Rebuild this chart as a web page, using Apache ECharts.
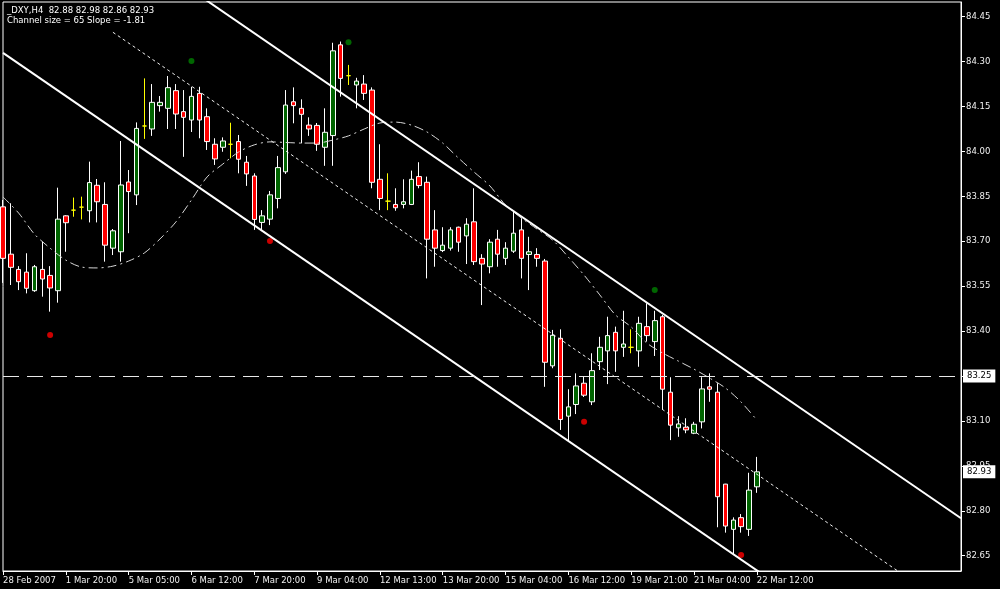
<!DOCTYPE html>
<html><head><meta charset="utf-8">
<script src="https://cdn.jsdelivr.net/npm/echarts@6/dist/echarts.min.js"></script>
<style>html,body{margin:0;padding:0;background:#000;}#c{width:1000px;height:589px;}</style>
</head><body><div id="c"></div>
<script>
// ---- data ----
const titleLine1 = '_DXY,H4  82.88 82.98 82.86 82.93';
const titleLine2 = 'Channel size = 65 Slope = -1.81';
const tickLabels = ['28 Feb 2007','1 Mar 20:00','5 Mar 05:00','6 Mar 12:00','7 Mar 20:00','9 Mar 04:00','12 Mar 13:00','13 Mar 20:00','15 Mar 04:00','16 Mar 12:00','19 Mar 21:00','21 Mar 04:00','22 Mar 12:00'];
const barsPerTick = 8;
const slotCount = 123; // bars + empty right margin
const open = [83.815,83.657,83.606,83.597,83.535,83.606,83.586,83.535,83.785,83.804,83.814,83.802,83.887,83.823,83.677,83.665,83.898,83.855,84.085,84.075,84.153,84.144,84.203,84.133,84.105,84.194,84.116,84.024,84.014,84.024,84.033,83.964,83.918,83.763,83.774,83.843,83.932,84.166,84.144,84.088,84.087,84.014,84.053,84.356,84.253,84.222,84.225,84.205,83.907,83.834,83.823,83.823,83.823,83.916,83.897,83.738,83.669,83.677,83.747,83.718,83.765,83.643,83.615,83.707,83.643,83.667,83.738,83.656,83.656,83.634,83.284,83.376,83.116,83.155,83.226,83.164,83.298,83.334,83.396,83.346,83.346,83.334,83.415,83.365,83.448,83.196,83.077,83.079,83.059,83.097,83.214,83.196,82.889,82.738,82.777,82.738,82.88];
const high = [83.838,83.827,83.617,83.660,83.621,83.699,83.617,83.879,83.787,83.846,83.849,83.966,83.908,83.897,83.741,84.035,83.938,84.097,84.244,84.225,84.185,84.252,84.225,84.205,84.216,84.216,84.144,84.044,84.047,84.096,84.055,83.985,83.927,83.804,83.868,83.985,84.205,84.214,84.174,84.114,84.095,84.144,84.363,84.367,84.289,84.246,84.255,84.214,84.024,83.927,83.877,83.907,83.936,83.964,83.916,83.804,83.747,83.747,83.749,83.777,83.877,83.657,83.707,83.738,83.697,83.799,83.777,83.715,83.677,83.641,83.404,83.406,83.206,83.259,83.248,83.326,83.381,83.448,83.415,83.468,83.406,83.448,83.493,83.468,83.454,83.246,83.116,83.109,83.097,83.246,83.259,83.226,82.890,82.778,82.789,82.927,82.98];
const low = [83.561,83.554,83.537,83.526,83.531,83.515,83.465,83.495,83.665,83.782,83.773,83.763,83.763,83.632,83.654,83.632,83.727,83.821,84.042,84.052,84.133,84.075,84.075,83.982,84.065,84.044,84.005,83.955,83.999,83.977,83.927,83.885,83.738,83.734,83.754,83.810,83.925,84.094,84.027,84.052,84.002,83.952,83.952,84.183,84.222,84.144,84.172,83.877,83.804,83.804,83.802,83.810,83.821,83.877,83.576,83.615,83.664,83.669,83.665,83.624,83.621,83.487,83.593,83.615,83.621,83.661,83.576,83.537,83.615,83.214,83.276,83.070,83.031,83.123,83.180,83.153,83.270,83.223,83.264,83.314,83.326,83.281,83.365,83.317,83.139,83.036,83.047,83.059,83.056,83.075,83.164,82.745,82.727,82.652,82.727,82.716,82.86];
const close = [83.643,83.613,83.565,83.543,83.615,83.574,83.544,83.774,83.762,83.804,83.814,83.896,83.832,83.687,83.735,83.888,83.866,84.077,84.085,84.164,84.164,84.213,84.125,84.114,84.184,84.105,84.033,83.975,84.035,84.024,83.974,83.925,83.773,83.785,83.855,83.946,84.155,84.153,84.124,84.075,84.024,84.064,84.336,84.244,84.253,84.235,84.194,83.897,83.843,83.834,83.812,83.832,83.907,83.886,83.707,83.677,83.687,83.738,83.697,83.757,83.632,83.624,83.697,83.657,83.677,83.727,83.643,83.665,83.643,83.296,83.386,83.105,83.147,83.217,83.186,83.268,83.346,83.385,83.334,83.357,83.346,83.426,83.385,83.435,83.206,83.086,83.090,83.070,83.089,83.207,83.206,82.847,82.749,82.769,82.747,82.869,82.93];
const maBars = [0,2,4,6,8,10,12,14,16,18,20,22,24,26,28,30,32,34,36,38,40,42,44,46,48,50,52,54,56,58,60,62,64,66,68,70,72,74,76,78,80,82,84,86,88,90,92,94,96];
const maValues = [83.848,83.794,83.724,83.677,83.637,83.614,83.611,83.617,83.634,83.661,83.708,83.764,83.838,83.915,83.958,83.998,84.022,84.032,84.030,84.028,84.028,84.038,84.052,84.075,84.095,84.098,84.088,84.065,84.028,83.978,83.931,83.885,83.821,83.778,83.741,83.704,83.647,83.587,83.521,83.454,83.414,83.360,83.327,83.300,83.273,83.243,83.210,83.163,83.103];
const channelUpper = [[0,84.971],[122,82.775]];
const channelMiddle = [[14,84.398],[122,82.454]];
const channelLower = [[0,84.329],[122,82.133]];
const highDots = [[24,84.302],[44,84.365],[83,83.537]];
const lowDots = [[6,83.387],[34,83.701],[74,83.097],[94,82.652]];
const levelLine = 83.25;
const yTicks = [82.65,82.80,82.95,83.10,83.25,83.40,83.55,83.70,83.85,84.00,84.15,84.30,84.45];
const yMin = 82.5989, yMax = 84.4991;

// ---- chart ----
const FONT = 'DejaVu Sans';
const categories = Array.from({length: slotCount}, (_, i) =>
  (i % barsPerTick === 0 && i / barsPerTick < tickLabels.length) ? tickLabels[i / barsPerTick] : '');
const showIdx = (idx) => categories[idx] !== '';
const candles = open.map((o, i) => [o, close[i], low[i], high[i]]);
const lastClose = close[close.length - 1];
const boxLabel = (txt) => ({show: true, position: 'end', distance: 2, formatter: txt, backgroundColor: '#fff', color: '#000', padding: [2, 4, 2, 4], fontSize: 8.5, fontFamily: FONT});

const chart = echarts.init(document.getElementById('c'), null, {renderer: 'canvas'});
chart.setOption({
  backgroundColor: '#000',
  animation: false,
  grid: {left: 3, right: 39, top: 2, bottom: 18, show: true, borderColor: '#fff', borderWidth: 1, backgroundColor: 'transparent'},
  graphic: [
    {type: 'text', left: 7, top: 6, style: {text: titleLine1, fill: '#fff', font: '8.5px "' + FONT + '"'}},
    {type: 'text', left: 7, top: 16, style: {text: titleLine2, fill: '#fff', font: '8.5px "' + FONT + '"'}}
  ],
  xAxis: {
    type: 'category', data: categories, boundaryGap: false,
    axisLine: {show: true, lineStyle: {color: '#fff', width: 1}},
    axisTick: {show: true, interval: showIdx, length: 4, lineStyle: {color: '#fff'}},
    axisLabel: {interval: showIdx, align: 'left', margin: 5, color: '#f0f0f0', fontSize: 8.5, fontFamily: FONT},
    splitLine: {show: false}
  },
  yAxis: {
    type: 'value', position: 'right', min: yMin, max: yMax, scale: true,
    axisLine: {show: true, lineStyle: {color: '#fff', width: 1}},
    axisTick: {show: true, customValues: yTicks, length: 4, lineStyle: {color: '#fff'}},
    axisLabel: {customValues: yTicks, formatter: v => v.toFixed(2), margin: 5, color: '#f0f0f0', fontSize: 8.5, fontFamily: FONT},
    splitLine: {show: false}
  },
  series: [
    {
      type: 'candlestick', data: candles, barWidth: 5,
      itemStyle: {color: '#006400', color0: '#ff0000', borderColor: '#ffffff', borderColor0: '#ffffff', borderColorDoji: '#ffff00', borderWidth: 1},
      markLine: {
        silent: true, symbol: 'none', animation: false,
        data: [
          {yAxis: levelLine, lineStyle: {type: [16, 8], color: '#e8e8e8', width: 1}, label: boxLabel(levelLine.toFixed(2))},
          {yAxis: lastClose, lineStyle: {color: 'rgba(0,0,0,0)', width: 1}, label: boxLabel(lastClose.toFixed(2))}
        ]
      }
    },
    {type: 'line', data: maValues.map((v, k) => [maBars[k], v]), smooth: 0.3, symbol: 'none',
     lineStyle: {color: '#d8d8d8', width: 1, type: [9, 4, 2, 4]}},
    {type: 'line', data: channelUpper, symbol: 'none', lineStyle: {color: '#fff', width: 2}},
    {type: 'line', data: channelLower, symbol: 'none', lineStyle: {color: '#fff', width: 2}},
    {type: 'line', data: channelMiddle, symbol: 'none', lineStyle: {color: '#f0f0f0', width: 1, type: [3, 3]}},
    {type: 'scatter', data: highDots, symbolSize: 6, itemStyle: {color: '#008000'}},
    {type: 'scatter', data: lowDots, symbolSize: 6, itemStyle: {color: '#ff0000'}}
  ]
});
</script></body></html>
